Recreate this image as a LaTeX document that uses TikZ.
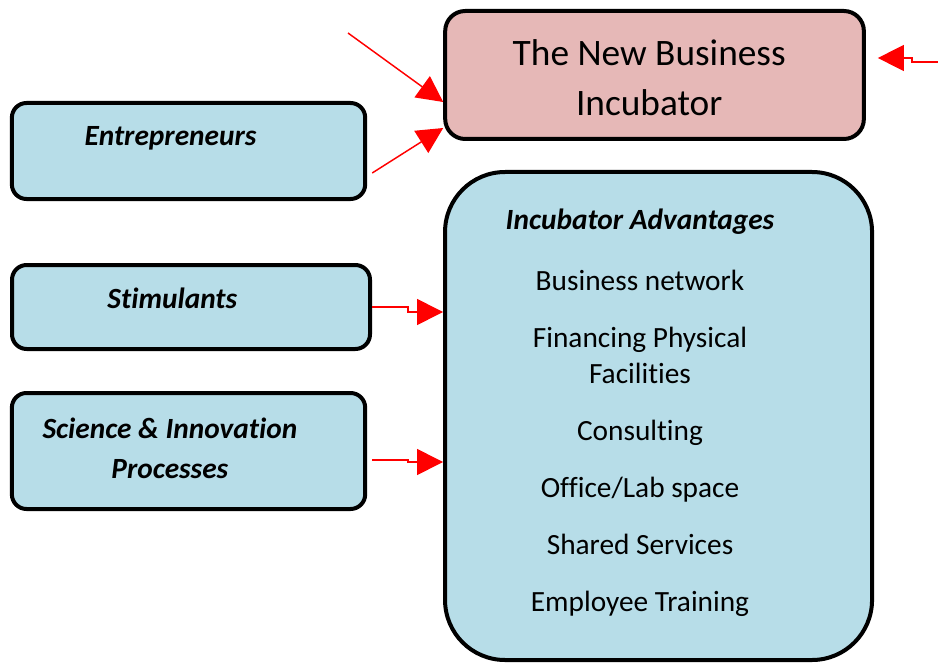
\documentclass[tikz,border=0pt]{standalone}
\usepackage{fontspec}
\setmainfont{Carlito}[RawFeature=-liga]
\usetikzlibrary{arrows.meta,positioning,calc}
\definecolor{ink}{HTML}{000000}
\definecolor{rosefill}{HTML}{E6B8B7}
\definecolor{bluefill}{HTML}{B7DDE8}
\definecolor{link}{HTML}{FF0000}

\begin{document}
\begin{tikzpicture}[
  x=1pt, y=1pt, font=\fontsize{22}{27}\selectfont,
  box/.style={draw=ink, fill=bluefill, line width=3pt, rounded corners=#1,
              inner sep=0pt, align=center},
  box/.default=11pt,
  headbox/.style={box=15pt, fill=rosefill, minimum width=314pt, minimum height=96pt,
                  font=\fontsize{28}{38}\selectfont},
  lbl/.style={font=\fontsize{22}{30}\selectfont\bfseries\itshape, align=center, inner sep=0pt},
  item/.style={align=center, inner sep=0pt},
  ar/.style={-{Triangle[length=19.5pt, width=19.5pt]}, draw=link, line width=1.1pt},
]
\useasboundingbox (0,0) rectangle (703.5,-497.25);

%% ---------------- incubator (top) ----------------
\node[headbox] (inc) at (490.9, -56.25) {};
\node[font=\fontsize{28}{38}\selectfont, align=center, inner sep=0pt]
  at ([shift={(-4pt,-2pt)}]inc.center) {The New Business\\Incubator};

%% ---------------- inputs (left) ----------------
\node[box, minimum width=265pt, minimum height=72pt] (ent) at (141.4, -113.25) {};
\node[lbl] at ([shift={(-13.5pt,9.75pt)}]ent.center) {Entrepreneurs};

\node[box, minimum width=268.5pt, minimum height=63pt] (stim) at (143.25, -230.25) {};
\node[lbl] at ([shift={(-14pt,6.75pt)}]stim.center) {Stimulants};

\node[box, minimum width=265pt, minimum height=87pt] (sci) at (141.4, -338.25) {};
\node[lbl] at ([shift={(-14pt,2.25pt)}]sci.center) {Science \& Innovation\\Processes};

%% ---------------- advantages (right) ----------------
\node[box=45pt, minimum width=320.25pt, minimum height=366pt] (adv) at (493.9, -312) {};
\node[lbl] (advt) at (480, -166.5) {Incubator Advantages};
\node[item] (adv1) at (480, -210)    {Business network};
\node[item] (adv2) at (480, -266.25) {Financing Physical\\Facilities};
\node[item] (adv3) at (480, -324.75) {Consulting};
\node[item] (adv4) at (480, -367.5)  {Office/Lab space};
\node[item] (adv5) at (480, -408)    {Shared Services};
\node[item] (adv6) at (480, -453)    {Employee Training};

%% ---------------- connectors ----------------
\coordinate (topin)   at (261, -24.75);
\coordinate (rightin) at (703.5, -46.5);

\draw[ar] (topin) -- ([yshift=-20.25pt]inc.west);
\draw[ar] ([shift={(3.75pt,-16.5pt)}]ent.east) -- ([yshift=-39.75pt]inc.west);
\draw[ar] (rightin) -- ++(-19.5pt,0) |- ([shift={(9pt,12.75pt)}]inc.east);
\draw[ar] (stim.east) -- ++(27pt,0) |- ([yshift=78pt]adv.west);
\draw[ar] ([shift={(3.75pt,-6.75pt)}]sci.east) -- ++(27pt,0) |- ([yshift=-34.5pt]adv.west);

\end{tikzpicture}
\end{document}
